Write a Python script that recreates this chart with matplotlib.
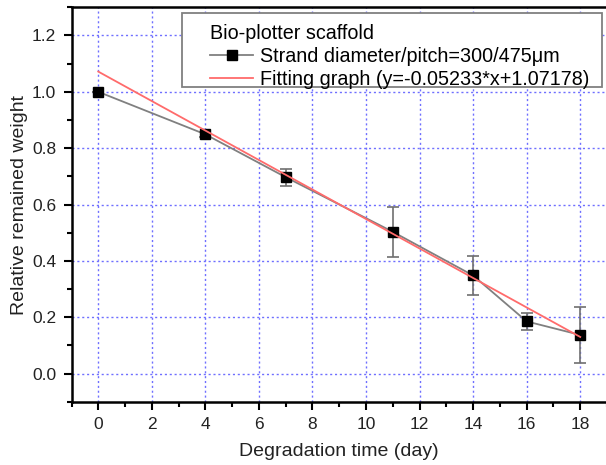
import matplotlib
matplotlib.use("Agg")
import matplotlib.pyplot as plt
import numpy as np
from matplotlib.ticker import MultipleLocator
from matplotlib.patches import Rectangle

plt.rcParams['font.family'] = ['Liberation Sans', 'DejaVu Sans']

days = [0, 4, 7, 11, 14, 16, 18]
weight = [1.0, 0.849, 0.697, 0.503, 0.348, 0.185, 0.137]
errors = [0.0, 0.008, 0.030, 0.088, 0.068, 0.031, 0.098]
slope = -0.05233
intercept = 1.07178
fit_x = [0, 18]

fig = plt.figure(figsize=(6.06, 4.65), dpi=100)
ax = fig.add_axes([71.5 / 606, 1 - 401.7 / 465, 535.5 / 606, 394.4 / 465])

ax.set_xlim(-1, 19)
ax.set_ylim(-0.1, 1.3)
ax.xaxis.set_major_locator(MultipleLocator(2))
ax.xaxis.set_minor_locator(MultipleLocator(1))
ax.yaxis.set_major_locator(MultipleLocator(0.2))
ax.yaxis.set_minor_locator(MultipleLocator(0.1))
ax.set_yticks(np.arange(0, 1.21, 0.2))

ax.grid(True, which='major', color='#6f6fff', linestyle=(0, (1.5, 2.0)), linewidth=1.0)
ax.set_axisbelow(True)

ax.errorbar(days, weight, yerr=errors, fmt='none', ecolor='#707070',
            elinewidth=1.2, capsize=4, capthick=1.2, zorder=3)
line_data, = ax.plot(days, weight, color='#808080', linewidth=1.3,
                     marker='s', markersize=7, markerfacecolor='black',
                     markeredgecolor='black', zorder=3,
                     label='Strand diameter/pitch=300/475\u03bcm')
fx = np.array(fit_x, dtype=float)
line_fit, = ax.plot(fx, slope * fx + intercept, color='#ff6b6b', linewidth=1.3,
                    label='Fitting graph (y=-0.05233*x+1.07178)', zorder=4)

for s in ['left', 'bottom', 'top']:
    ax.spines[s].set_linewidth(1.8)
    ax.spines[s].set_color('black')
ax.spines['right'].set_visible(False)

ax.tick_params(which='major', direction='out', length=6, width=1.5, labelsize=12.5,
               colors='black', labelcolor='#222222', pad=5)
ax.tick_params(which='minor', direction='out', length=3.5, width=1.5)
ax.tick_params(top=False, right=False)
ax.set_yticklabels(['0.0', '0.2', '0.4', '0.6', '0.8', '1.0', '1.2'])

ax.set_xlabel('Degradation time (day)', fontsize=14, labelpad=8, color='#222222')
ax.set_ylabel('Relative remained weight', fontsize=14, labelpad=3, color='#222222')

# legend frame
box = Rectangle((0.2058, 0.7972), 0.990 - 0.2058, 0.9848 - 0.7972,
                transform=ax.transAxes, facecolor='white', edgecolor='#808080',
                linewidth=1.3, zorder=5)
ax.add_patch(box)
leg = ax.legend(handles=[line_data, line_fit], loc='upper left',
                bbox_to_anchor=(0.2586, 0.958), fontsize=14.2,
                title='Bio-plotter scaffold', title_fontsize=14.2, alignment='left',
                frameon=False, handlelength=2.2, handletextpad=0.35,
                borderpad=0, labelspacing=0.2, borderaxespad=0)
leg.set_zorder(6)

fig.savefig('out.png', dpi=100)
